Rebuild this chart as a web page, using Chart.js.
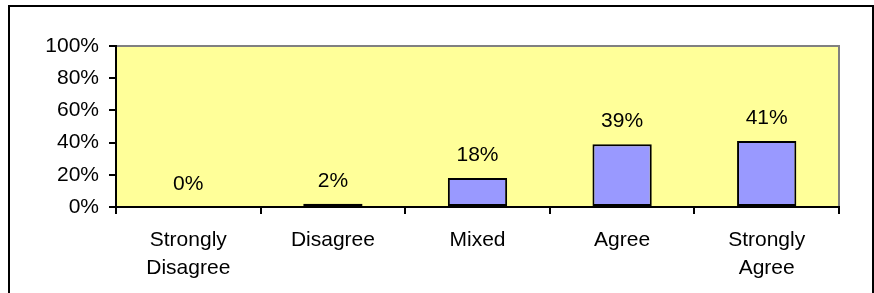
<!DOCTYPE html>
<html>
<head>
<meta charset="utf-8">
<script src="https://cdn.jsdelivr.net/npm/chart.js@4/dist/chart.umd.min.js"></script>
<style>
  html, body { margin: 0; padding: 0; background: #fff; }
  canvas { display: block; }
</style>
</head>
<body>
<canvas id="surveyChart" width="874" height="293"></canvas>
<script>
// data
const categories = [['Strongly', 'Disagree'], 'Disagree', 'Mixed', 'Agree', ['Strongly', 'Agree']];
const percentValues = [0, 2, 18, 39, 41];
const yTickValues = [0, 20, 40, 60, 80, 100];

const FONT = { family: 'Liberation Sans, Arial, sans-serif', size: 21 };

// frame around the whole chart + yellow plot area
const framePlugin = {
    id: 'frame',
    beforeDraw(chart) {
        const ctx = chart.ctx;
        const a = chart.chartArea;
        ctx.save();
        ctx.fillStyle = '#ffffff';
        ctx.fillRect(0, 0, chart.width, chart.height);
        ctx.strokeStyle = '#000000';
        ctx.lineWidth = 2;
        ctx.strokeRect(9, 6, 864, 400);
        ctx.fillStyle = '#ffff99';
        ctx.fillRect(a.left, a.top, a.right - a.left, a.bottom - a.top);
        ctx.strokeStyle = '#808080';
        ctx.lineWidth = 2;
        ctx.beginPath();
        ctx.moveTo(a.left, a.top);
        ctx.lineTo(a.right, a.top);
        ctx.lineTo(a.right, a.bottom);
        ctx.stroke();
        ctx.restore();
    }
};

// value labels above bars
const valueLabelPlugin = {
    id: 'valueLabels',
    afterDatasetsDraw(chart) {
        const ctx = chart.ctx;
        const meta = chart.getDatasetMeta(0);
        ctx.save();
        ctx.font = FONT.size + 'px ' + FONT.family;
        ctx.fillStyle = '#000';
        ctx.textAlign = 'center';
        ctx.textBaseline = 'middle';
        meta.data.forEach((bar, i) => {
            ctx.fillText(percentValues[i] + '%', bar.x, bar.y - 23);
        });
        ctx.restore();
    }
};

new Chart(document.getElementById('surveyChart'), {
    type: 'bar',
    data: {
        labels: categories,
        datasets: [{
            data: percentValues,
            backgroundColor: '#9999ff',
            borderColor: '#000000',
            borderWidth: 2,
            borderSkipped: false,
            categoryPercentage: 1,
            barPercentage: 0.41
        }]
    },
    options: {
        responsive: false,
        animation: false,
        layout: { padding: { top: 46, right: 35, left: 0, bottom: 0 } },
        plugins: {
            legend: { display: false },
            tooltip: { enabled: false }
        },
        scales: {
            x: {
                offset: true,
                grid: {
                    offset: true,
                    drawOnChartArea: false,
                    tickLength: 7,
                    color: '#000',
                    lineWidth: 2
                },
                border: { color: '#000', width: 2 },
                ticks: {
                    color: '#000',
                    font: { ...FONT, lineHeight: 1.33 },
                    padding: 12,
                    maxRotation: 0,
                    autoSkip: false
                },
                afterFit(scale) { scale.height = 86; }
            },
            y: {
                min: 0,
                max: 100,
                afterBuildTicks(scale) {
                    scale.ticks = yTickValues.map(v => ({ value: v }));
                },
                grid: {
                    drawOnChartArea: false,
                    tickLength: 7,
                    color: '#000',
                    lineWidth: 2
                },
                border: { color: '#000', width: 2 },
                ticks: {
                    color: '#000',
                    font: FONT,
                    padding: 10,
                    callback: v => v + '%'
                },
                afterFit(scale) { scale.width = 116; }
            }
        }
    },
    plugins: [framePlugin, valueLabelPlugin]
});
</script>
</body>
</html>
